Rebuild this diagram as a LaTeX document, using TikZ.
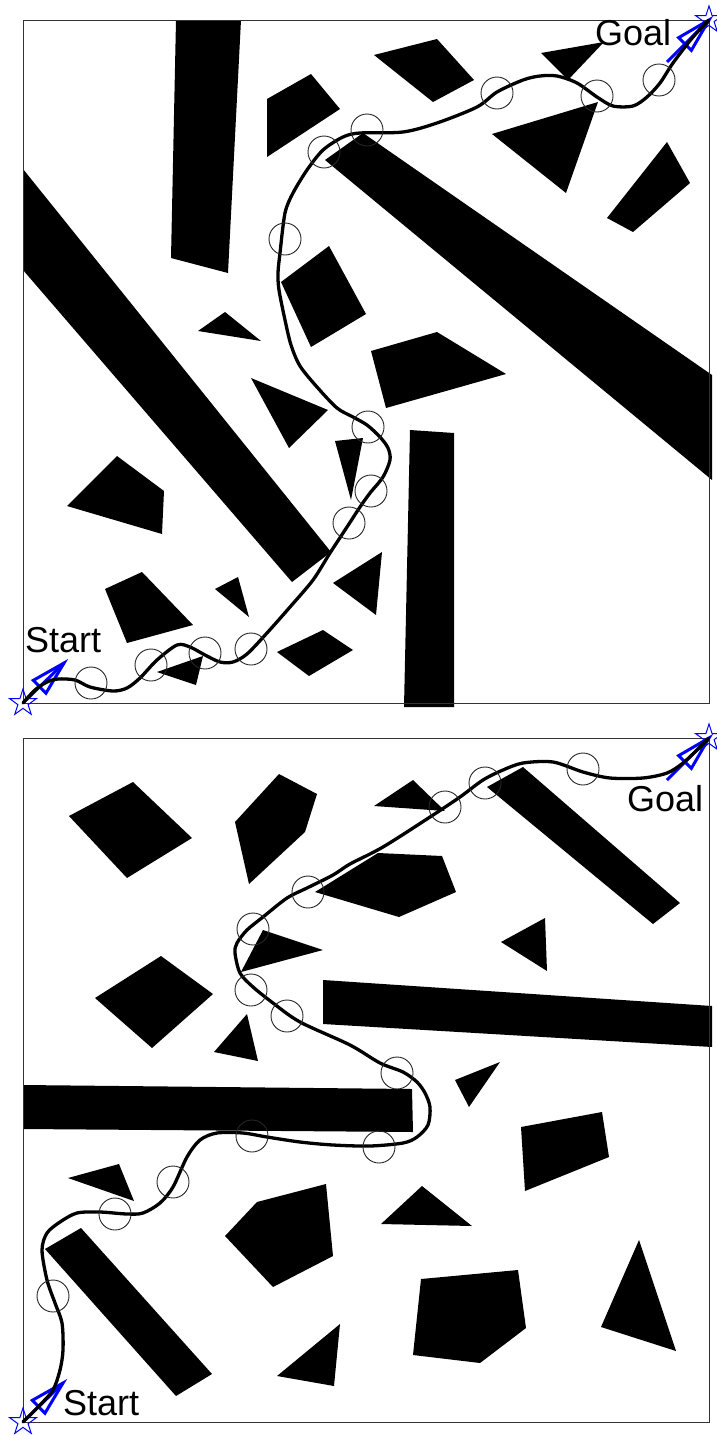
\documentclass[tikz,border=0pt]{standalone}
\usepackage{fontspec}
\setmainfont{Liberation Sans}
\usetikzlibrary{shapes.geometric, calc}

\tikzset{
  obstacle/.style = {fill=black},
  frame_box/.style = {draw=black!80, line width=1pt},
  robot_path/.style = {draw=black, line width=3.3pt, line join=round, line cap=round},
  sample_ring/.style = {draw=black!85, line width=0.9pt},
  end_star/.style = {star, star points=5, star point ratio=2.618, minimum size=28pt,
    inner sep=0, draw=blue, line width=1pt},
  heading_arrow/.style = {draw=blue, line width=3pt},
  tag/.style = {font=\fontsize{36}{40}\selectfont, inner sep=0, anchor=base west}
}

% heading arrow: shaft from #1 to #2, closed head at #2
\newcommand{\heading}[2]{
  \draw[heading_arrow] (#1) -- (#2);
  \draw[heading_arrow] (#2) -- ($(#2)!34pt!(#1)!9pt!90:(#2)$)
    -- ($(#2)!34pt!(#1)!9pt!-90:(#2)$) -- cycle;
}

\begin{document}
\begin{tikzpicture}[x=1pt, y=-1pt]
  \useasboundingbox (0,0) rectangle (717,1435);

  %% upper map
  % obstacles
  \fill[obstacle] (176,20)--(241,20)--(228,273)--(171,258)--cycle;
  \fill[obstacle] (267,99)--(311,74)--(340,109)--(267,157)--cycle;
  \fill[obstacle] (23,169)--(331,552)--(292,582)--(23,270)--cycle;
  \fill[obstacle] (198,331)--(225,312)--(261,341)--cycle;
  \fill[obstacle] (281,282)--(329,246)--(366,314)--(311,347)--cycle;
  \fill[obstacle] (325,160)--(363,133)--(712,375)--(712,480)--cycle;
  \fill[obstacle] (374,55)--(437,39)--(474,80)--(433,102)--cycle;
  \fill[obstacle] (541,53)--(604,42)--(568,80)--cycle;
  \fill[obstacle] (492,134)--(598,102)--(566,193)--cycle;
  \fill[obstacle] (667,142)--(690,183)--(633,232)--(607,218)--cycle;
  \fill[obstacle] (371,351)--(437,332)--(506,374)--(386,408)--cycle;
  \fill[obstacle] (251,378)--(328,410)--(289,448)--cycle;
  \fill[obstacle] (67,506)--(117,456)--(164,491)--(162,534)--cycle;
  \fill[obstacle] (335,441)--(363,438)--(351,500)--cycle;
  \fill[obstacle] (105,589)--(142,572)--(193,625)--(127,643)--cycle;
  \fill[obstacle] (215,589)--(238,577)--(249,617)--cycle;
  \fill[obstacle] (157,672)--(203,656)--(196,685)--cycle;
  \fill[obstacle] (277,652)--(323,630)--(353,650)--(309,676)--cycle;
  \fill[obstacle] (333,583)--(382,552)--(376,615)--cycle;
  \fill[obstacle] (410,430)--(454,433)--(454,707)--(404,707)--cycle;

  \draw[frame_box] (23,20) rectangle (709,703);

  % start and goal
  \node[end_star] (start_top) at (23,703) {};
  \node[end_star] (goal_top) at (709,20) {};
  \coordinate (start_top_tip) at (64,663);
  \coordinate (goal_top_tail) at (667,62);
  \heading{start_top.center}{start_top_tip}
  \heading{goal_top_tail}{goal_top.center}

  % planned path
  \draw[robot_path] plot[smooth, tension=0.5] coordinates {
    (23,703) (35,690) (47,682) (58,679) (75,680) (90,687) (113,691) (127,688)
    (140,678) (157,660) (177,645) (190,647) (205,655) (220,662) (233,662)
    (247,654) (267,633) (290,607) (313,580) (330,553) (347,527) (360,507)
    (370,493) (383,477) (390,460) (388,448) (380,437) (367,425) (353,417)
    (337,408) (317,387) (300,366) (291,345) (285,320) (279,290) (278,273)
    (280,253) (285,213) (293,193) (307,170) (323,150) (343,137) (360,133)
    (403,132) (437,123) (477,107) (497,92) (523,80) (540,76) (557,76)
    (577,83) (597,97) (613,106) (633,106) (647,97) (660,83) (673,63)
    (693,37) (709,20)};

  % sampled states
  \foreach \cx/\cy in {91/683, 151/665, 205/653, 251/649, 349/523, 371/491,
      368/427, 285/239, 324/152, 367/130, 497/93, 597/96, 659/80}
    \draw[sample_ring] (\cx,\cy) circle[radius=16pt];

  \node[tag] (goal_top_label) at (595,45) {Goal};
  \node[tag] (start_top_label) at (25,652) {Start};

  %% lower map
  % obstacles
  \fill[obstacle] (69,816)--(133,782)--(192,838)--(127,878)--cycle;
  \fill[obstacle] (235,822)--(279,774)--(317,794)--(305,832)--(249,884)--cycle;
  \fill[obstacle] (315,892)--(378,853)--(442,856)--(456,892)--(399,917)--cycle;
  \fill[obstacle] (263,930)--(323,950)--(241,972)--cycle;
  \fill[obstacle] (95,998)--(161,956)--(213,994)--(152,1048)--cycle;
  \fill[obstacle] (214,1052)--(247,1014)--(258,1061)--cycle;
  \fill[obstacle] (323,980)--(712,1006)--(712,1047)--(323,1024)--cycle;
  \fill[obstacle] (23,1085)--(412,1089)--(413,1132)--(23,1129)--cycle;
  \fill[obstacle] (487,787)--(523,767)--(680,903)--(653,924)--cycle;
  \fill[obstacle] (374,806)--(413,780)--(445,811)--cycle;
  \fill[obstacle] (501,942)--(545,918)--(547,971)--cycle;
  \fill[obstacle] (455,1080)--(500,1062)--(469,1107)--cycle;
  \fill[obstacle] (521,1127)--(602,1112)--(609,1157)--(525,1191)--cycle;
  \fill[obstacle] (381,1224)--(422,1186)--(472,1226)--cycle;
  \fill[obstacle] (421,1279)--(518,1270)--(526,1328)--(480,1363)--(413,1355)--cycle;
  \fill[obstacle] (639,1240)--(676,1351)--(601,1327)--cycle;
  \fill[obstacle] (45,1249)--(81,1228)--(212,1374)--(176,1396)--cycle;
  \fill[obstacle] (225,1236)--(257,1202)--(326,1184)--(333,1256)--(273,1287)--cycle;
  \fill[obstacle] (68,1178)--(119,1164)--(134,1201)--cycle;
  \fill[obstacle] (277,1376)--(340,1324)--(334,1386)--cycle;

  \draw[frame_box] (23,738) rectangle (709,1422);

  % start and goal
  \node[end_star] (start_bot) at (23,1422) {};
  \node[end_star] (goal_bot) at (709,738) {};
  \coordinate (start_bot_tip) at (63,1383);
  \coordinate (goal_bot_tail) at (667,780);
  \heading{start_bot.center}{start_bot_tip}
  \heading{goal_bot_tail}{goal_bot.center}

  % planned path
  \draw[robot_path] plot[smooth, tension=0.5] coordinates {
    (23,1422) (40,1405) (53,1390) (60,1370) (63,1350) (62,1323) (55,1303)
    (47,1280) (42,1250) (47,1233) (60,1222) (77,1213) (100,1212) (127,1214)
    (143,1213) (160,1203) (173,1187) (187,1157) (200,1140) (217,1133)
    (243,1133) (267,1137) (300,1142) (333,1145) (370,1146) (403,1143)
    (417,1137) (428,1125) (430,1107) (425,1093) (417,1082) (403,1072)
    (380,1063) (350,1045) (300,1022) (273,1003) (253,987) (240,973)
    (235,953) (237,943) (247,930) (263,917) (287,898) (307,888) (333,875)
    (350,864) (383,847) (430,817) (460,797) (483,780) (503,770) (523,763)
    (553,762) (583,772) (610,778) (643,778) (667,773) (683,763) (700,747)
    (709,738)};

  % sampled states
  \foreach \cx/\cy in {53/1296, 115/1214, 173/1182, 252/1136, 379/1147,
      397/1073, 287/1016, 251/990, 253/929, 308/892, 445/807, 485/783, 583/769}
    \draw[sample_ring] (\cx,\cy) circle[radius=16pt];

  \node[tag] (goal_bot_label) at (627,811) {Goal};
  \node[tag] (start_bot_label) at (63,1415) {Start};
\end{tikzpicture}
\end{document}
